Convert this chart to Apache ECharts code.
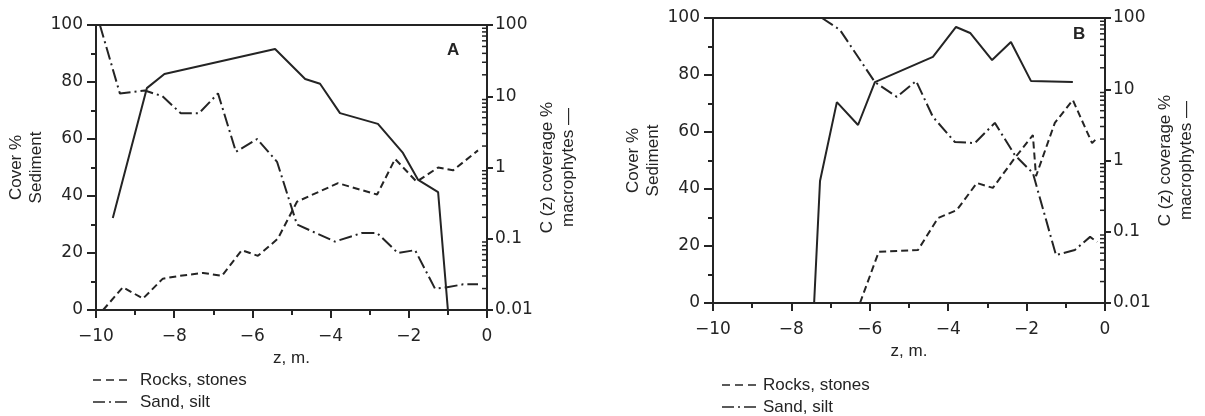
<!DOCTYPE html>
<html>
<head>
<meta charset="utf-8">
<script src="https://cdn.jsdelivr.net/npm/echarts@6/dist/echarts.min.js"></script>
<style>
html,body{margin:0;padding:0;background:#fff;}
#c{width:1205px;height:416px;}
</style>
</head>
<body>
<div id="c"></div>
<script>
// ---------- Panel A data ----------
const zA_rocks = [-9.82,-9.31,-8.80,-8.29,-7.85,-7.26,-6.78,-6.27,-5.86,-5.35,-4.86,-3.81,-2.81,-2.35,-1.80,-1.25,-0.87,-0.23];
const rocksA   = [0,8,4,11,12,13,12,21,19,25,38,44.5,40.5,53,45,50,49,56];
const zA_sand  = [-9.90,-9.39,-8.75,-8.30,-7.83,-7.37,-6.88,-6.42,-5.88,-5.37,-4.86,-3.89,-3.20,-2.81,-2.28,-1.84,-1.33,-1.02,-0.61,-0.23];
const sandA    = [100,76,77,75,69,69,76,55.5,60,52,30,24,27,27,20,21,7.5,8,9,9];
const zA_mac   = [-9.57,-8.70,-8.25,-5.42,-4.65,-4.27,-3.76,-2.79,-2.15,-1.76,-1.25,-1.00];
const macA     = [0.195,13,20.5,46,17.5,15,5.8,4.1,1.6,0.67,0.45,0.01];
// ---------- Panel B data ----------
const zB_rocks = [-6.25,-5.77,-4.77,-4.26,-3.78,-3.27,-2.86,-2.30,-1.84,-1.76,-1.28,-0.82,-0.33,-0.20];
const rocksB   = [0,18,18.6,29.8,32.6,42.1,40.4,50.9,58.9,44.5,63.2,71.2,56.1,57.9];
const zB_sand  = [-7.22,-6.76,-5.87,-5.31,-4.82,-4.39,-3.83,-3.32,-2.81,-2.30,-1.84,-1.25,-0.77,-0.38,-0.20];
const sandB    = [100,95.8,77.5,72.3,77.9,65.3,56.5,56.1,63.2,51.9,45.6,16.8,18.6,23.2,21.4];
const zB_mac   = [-7.42,-7.27,-6.84,-6.30,-5.87,-4.39,-3.80,-3.44,-2.88,-2.40,-1.89,-0.82];
const macB     = [0.01,0.515,6.6,3.15,12.6,28.4,74.8,61.6,25.7,46,13.1,12.6];
// ---------- axis labels ----------
const logTickLabels = {'-2':'0.01','-1':'0.1','0':'1','1':'10','2':'100'};
const logDecades = [0.01,0.1,1,10];
const logMinorMult = [2,3,4,5,6,7,8,9];
const panelLetters = ['A','B'];
const seriesNames = ['Rocks, stones','Sand, silt','macrophytes'];

const ink = '#242424';
const FONT = 'Liberation Sans';
const TICKFONT = 'DejaVu Sans';

const zip = (xs, ys) => xs.map((x,i)=>[x, ys[i]]);
const minorTicks = [];
logDecades.forEach(d => logMinorMult.forEach(m => minorTicks.push([0, d*m])));

function xAxisFor(g){
  return {
    type:'value', gridIndex:g, min:-10, max:0, interval:2,
    name:'z, m.', nameLocation:'middle', nameGap:27,
    nameTextStyle:{fontFamily:FONT,fontSize:17,color:ink},
    axisLine:{onZero:false,lineStyle:{color:ink,width:2}},
    axisTick:{show:true,length:8,lineStyle:{color:ink,width:2}},
    minorTick:{show:true,splitNumber:2,length:5,lineStyle:{color:ink,width:2}},
    splitLine:{show:false},
    axisLabel:{margin:18,fontFamily:TICKFONT,fontSize:17,color:ink,
      formatter:v => v<0 ? '\u2212'+Math.abs(v) : String(v)}
  };
}
function leftAxisFor(g){
  return {
    type:'value', gridIndex:g, position:'left', min:0, max:100, interval:20,
    name:'Cover %\nSediment', nameLocation:'middle', nameRotate:90, nameGap:50,
    nameTextStyle:{fontFamily:FONT,fontSize:17,color:ink,lineHeight:20},
    axisLine:{onZero:false,lineStyle:{color:ink,width:2}},
    axisTick:{show:true,length:9,lineStyle:{color:ink,width:2}},
    minorTick:{show:true,splitNumber:2,length:5,lineStyle:{color:ink,width:2}},
    splitLine:{show:false},
    axisLabel:{margin:13,fontFamily:TICKFONT,fontSize:17,color:ink}
  };
}
function rightAxisFor(g, gap){
  return {
    type:'log', logBase:10, gridIndex:g, position:'right', min:0.01, max:100,
    name:'C (z) coverage %\nmacrophytes \u2014', nameLocation:'middle', nameRotate:90, nameGap:gap,
    nameTextStyle:{fontFamily:FONT,fontSize:17,color:ink,lineHeight:21},
    axisLine:{onZero:false,lineStyle:{color:ink,width:2}},
    axisTick:{show:true,length:6,lineStyle:{color:ink,width:2}},
    splitLine:{show:false},
    axisLabel:{margin:8,fontFamily:TICKFONT,fontSize:17,color:ink,
      formatter:v => logTickLabels[String(Math.round(Math.log10(v)))] || ''}
  };
}
const dashRocks = [7,4];
const dashSand = [13,4,2,4];
function lineSeries(name, data, xi, yi, dash){
  return {
    name, type:'line', xAxisIndex:xi, yAxisIndex:yi, data, symbol:'none',
    lineStyle:{color:ink,width:2,type:dash}, itemStyle:{color:ink},
    animation:false, z:3
  };
}
function minorTickSeries(xi, yi){
  return {
    type:'custom', xAxisIndex:xi, yAxisIndex:yi, data:minorTicks, silent:true, clip:false,
    animation:false,
    renderItem:(p, api) => {
      const pt = api.coord([api.value(0), api.value(1)]);
      return {type:'line', shape:{x1:pt[0]-5,y1:pt[1],x2:pt[0],y2:pt[1]},
        style:{stroke:ink,lineWidth:1.5}};
    }
  };
}
function legendGraphic(x, y, textX){
  const items = [
    {name:seriesNames[0], dash:[8,5], dy:0},
    {name:seriesNames[1], dash:[12,4,2,4], dy:22}
  ];
  const out = [];
  items.forEach(it => {
    out.push({type:'line', shape:{x1:x, y1:y+it.dy, x2:x+35, y2:y+it.dy},
      style:{stroke:ink, lineWidth:1.6, lineDash:it.dash}});
    out.push({type:'text', x:textX, y:y+it.dy,
      style:{text:it.name, font:'17px "Liberation Sans"', fill:ink, textVerticalAlign:'middle', verticalAlign:'middle'}});
  });
  return out;
}

const chart = echarts.init(document.getElementById('c'), null, {renderer:'canvas'});
chart.setOption({
  backgroundColor:'#fff',
  animation:false,
  grid:[
    {left:96, top:25, width:391, height:285, show:true, borderColor:ink, borderWidth:2, backgroundColor:'transparent'},
    {left:713, top:18, width:392, height:285, show:true, borderColor:ink, borderWidth:2, backgroundColor:'transparent'}
  ],
  xAxis:[xAxisFor(0), xAxisFor(1)],
  yAxis:[leftAxisFor(0), rightAxisFor(0, 37), leftAxisFor(1), rightAxisFor(1, 40)],
  graphic:[
    {type:'text', left:447, top:42, style:{text:panelLetters[0], font:'bold 17px "Liberation Sans"', fill:ink}},
    {type:'text', left:1073, top:26, style:{text:panelLetters[1], font:'bold 17px "Liberation Sans"', fill:ink}}
  ].concat(legendGraphic(93, 380, 140), legendGraphic(722, 385, 763)),
  series:[
    lineSeries(seriesNames[0], zip(zA_rocks, rocksA), 0, 0, dashRocks),
    lineSeries(seriesNames[1], zip(zA_sand, sandA), 0, 0, dashSand),
    lineSeries(seriesNames[2], zip(zA_mac, macA), 0, 1, 'solid'),
    minorTickSeries(0, 1),
    lineSeries(seriesNames[0], zip(zB_rocks, rocksB), 1, 2, dashRocks),
    lineSeries(seriesNames[1], zip(zB_sand, sandB), 1, 2, dashSand),
    lineSeries(seriesNames[2], zip(zB_mac, macB), 1, 3, 'solid'),
    minorTickSeries(1, 3)
  ]
});
</script>
</body>
</html>
